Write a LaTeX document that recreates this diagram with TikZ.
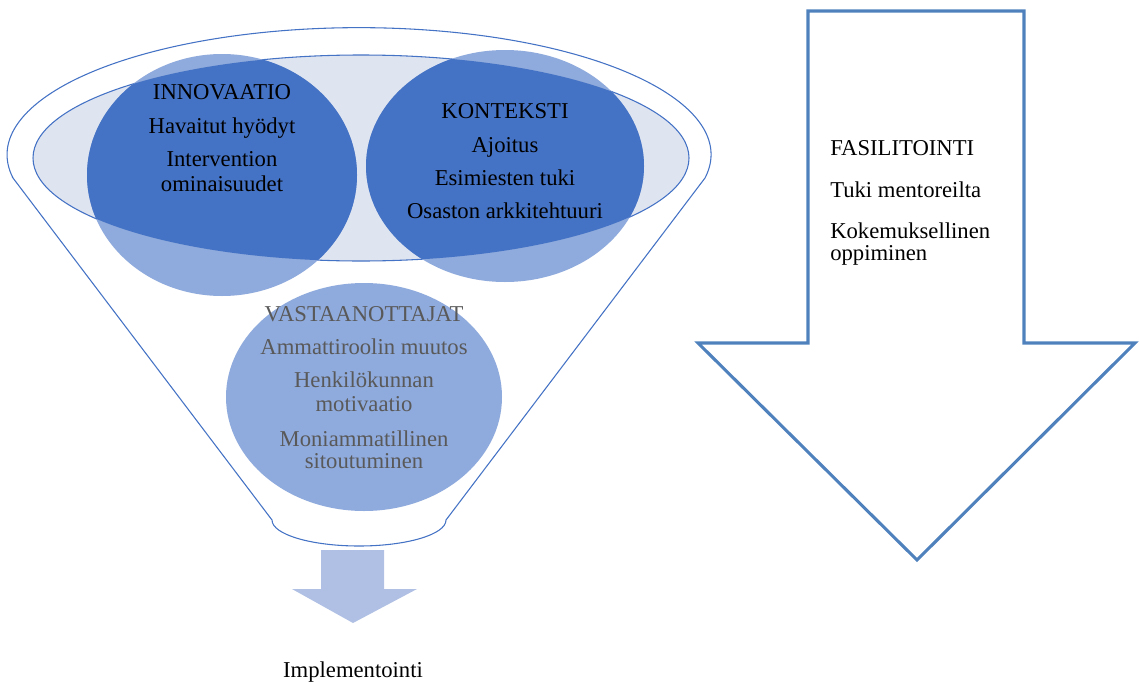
\documentclass[tikz,border=0pt]{standalone}
\usepackage{fontspec}
\setmainfont{Liberation Serif}
\definecolor{dblue}{HTML}{4472C4}
\definecolor{lblue}{HTML}{8FAADC}
\definecolor{pale}{HTML}{DFE4F1}
\definecolor{arrowblue}{HTML}{4F81BD}
\definecolor{implblue}{HTML}{AFC0E4}
\definecolor{graytext}{HTML}{595959}
\begin{document}
\begin{tikzpicture}[x=0.75pt,y=-0.75pt,
  txt/.style={font=\fontsize{17}{19}\selectfont, inner sep=0pt, anchor=base},
  funnelline/.style={draw=dblue, line width=0.8pt}]
\useasboundingbox (0,0) rectangle (1139,682);
% funnel outline
\path[funnelline, fill=white] (13,178) -- (272,520)
  arc[start angle=180, end angle=0, x radius=87, y radius=26]
  -- (705,178)
  arc[start angle=10.6, end angle=-190.6, x radius=352, y radius=127]
  -- cycle;
% inner ellipse
\path[funnelline, fill=pale] (361,158) ellipse[x radius=328, y radius=103];
% circles
\fill[lblue] (222,175) ellipse[x radius=135, y radius=121];
\fill[lblue] (505,166) ellipse[x radius=139, y radius=116];
\fill[lblue] (364,397) ellipse[x radius=138, y radius=114];
\begin{scope}
  \clip (361,158) ellipse[x radius=328, y radius=103];
  \fill[dblue] (222,175) ellipse[x radius=135, y radius=121];
  \fill[dblue] (505,166) ellipse[x radius=139, y radius=116];
\end{scope}
% texts circle 1
\node[txt] (inno) at (222,99) {INNOVAATIO};
\node[txt] (inno1) at (222,133) {Havaitut hyödyt};
\node[txt] (inno2) at (222,166) {Intervention};
\node[txt] (inno3) at (222,191) {ominaisuudet};
% texts circle 2
\node[txt] (kont) at (505,118) {KONTEKSTI};
\node[txt] (kont1) at (505,152) {Ajoitus};
\node[txt] (kont2) at (505,185) {Esimiesten tuki};
\node[txt] (kont3) at (505,218) {Osaston arkkitehtuuri};
% texts circle 3
\node[txt, text=graytext] (vast) at (364,321) {VASTAANOTTAJAT};
\node[txt, text=graytext] (vast1) at (364,354) {Ammattiroolin muutos};
\node[txt, text=graytext] (vast2) at (364,387) {Henkilökunnan};
\node[txt, text=graytext] (vast3) at (364,411) {motivaatio};
\node[txt, text=graytext] (vast4) at (364,446) {Moniammatillinen};
\node[txt, text=graytext] (vast5) at (364,468) {sitoutuminen};
% implementation arrow
\fill[implblue] (321,550) -- (384,550) -- (384,589) -- (417,589) -- (353,623)
  -- (292,589) -- (321,589) -- cycle;
\node[txt] (impl) at (353,677) {Implementointi};
% big arrow
\draw[arrowblue, line width=2.3pt, line join=miter] (808,11) -- (1024,11) -- (1024,343)
  -- (1135,343) -- (917,560) -- (698,343) -- (808,343) -- cycle;
\node[txt, anchor=base west] (fas) at (830,155) {FASILITOINTI};
\node[txt, anchor=base west] (fas1) at (830,197) {Tuki mentoreilta};
\node[txt, anchor=base west] (fas2) at (830,238) {Kokemuksellinen};
\node[txt, anchor=base west] (fas3) at (830,260) {oppiminen};
\end{tikzpicture}
\end{document}
